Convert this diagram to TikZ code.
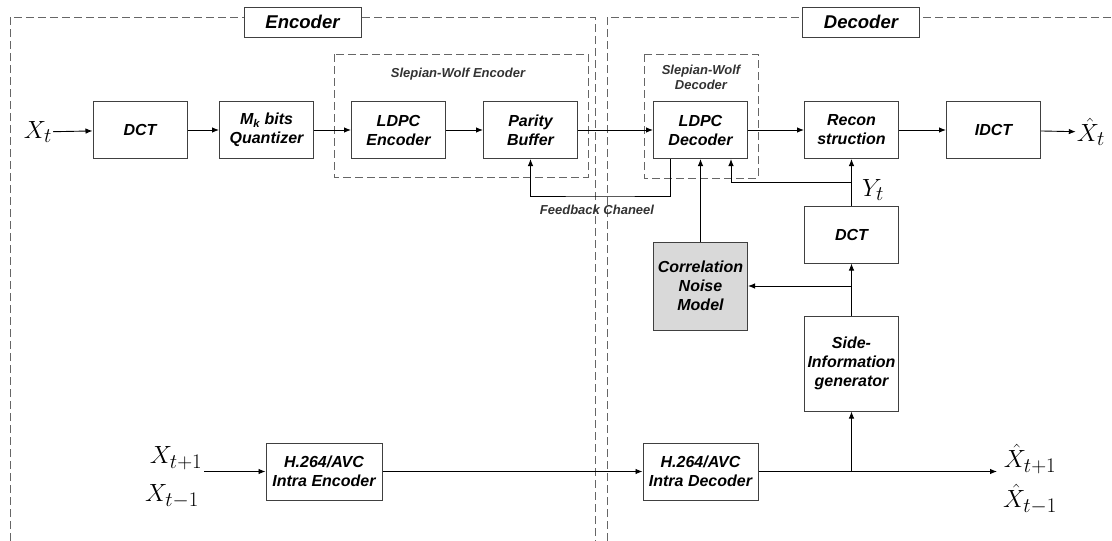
\documentclass[tikz,border=0pt]{standalone}
\usepackage{fontspec}
\newfontfamily\arialfont{Liberation Sans}
\usetikzlibrary{arrows.meta}

\begin{document}
\begin{tikzpicture}[x=1pt,y=-1pt,
    >={Latex[length=7pt,width=5.5pt]},
    blk/.style={draw=black!75,line width=1pt,minimum width=94pt,minimum height=57pt,
      inner sep=1pt,align=center,font=\arialfont\bfseries\itshape\fontsize{16}{19}\selectfont},
    lbl/.style={draw=black!75,fill=white,line width=1pt,minimum width=117pt,minimum height=30pt,
      inner sep=0pt,font=\arialfont\bfseries\itshape\fontsize{18.5}{21}\selectfont},
    note/.style={inner sep=1pt,align=center,text=black!80,
      font=\arialfont\bfseries\itshape\fontsize{13}{15}\selectfont},
    sig/.style={inner sep=1pt,font=\fontsize{24.88}{28}\selectfont},
    zone/.style={draw=black!60,line width=1pt,dash pattern=on 8pt off 4pt},
    link/.style={->,line width=0.9pt}]
  \useasboundingbox (0,0) rectangle (1112,541);

  \draw[zone] (10,541) -- (10,17) -- (595,17) -- (595,541);
  \draw[zone] (607,541) -- (607,17) -- (1112,17);
  \draw[zone] (334,54) rectangle (588,177);
  \draw[zone] (644,54) rectangle (758,178);

  \node[lbl] (enc) at (302.5,22) {Encoder};
  \node[lbl] (dec) at (861,22) {Decoder};
  \node[note] (swe) at (458,74) {Slepian-Wolf Encoder};
  \node[note] (swd) at (701,77) {Slepian-Wolf\\Decoder};

  \node[sig] (xt) at (38,132) {$X_t$};
  \node[blk] (dct) at (140,130) {DCT};
  \node[blk] (quant) at (266.5,130) {M\textsubscript{k} bits\\Quantizer};
  \node[blk] (ldpce) at (398.5,130) {LDPC\\Encoder};
  \node[blk] (parity) at (530.5,130) {Parity\\Buffer};
  \node[blk] (ldpcd) at (700.5,130) {LDPC\\Decoder};
  \node[blk] (recon) at (851.5,130) {Recon\\struction};
  \node[blk] (idct) at (993.5,130) {IDCT};
  \node[sig] (xhat) at (1091,132) {$\hat{X}_t$};

  \node[blk] (ddct) at (851.5,234.5) {DCT};
  \node[sig] (yt) at (873,190) {$Y_t$};
  \node[blk,fill=black!15,minimum height=88pt] (cnm) at (700.5,286) {Correlation\\Noise\\Model};
  \node[blk,minimum height=95pt] (side) at (851.5,363.5) {Side-\\Information\\generator};
  \node[note] (fbl) at (597,210) {Feedback Chaneel};

  \node[sig] (xp) at (176,458) {$X_{t+1}$};
  \node[sig] (xm) at (172,496) {$X_{t-1}$};
  \node[blk,minimum width=116pt] (h264e) at (324,471.5) {H.264/AVC\\Intra Encoder};
  \node[blk,minimum width=115pt] (h264d) at (700.5,471.5) {H.264/AVC\\Intra Decoder};
  \node[sig] (xhp) at (1030,459) {$\hat{X}_{t+1}$};
  \node[sig] (xhm) at (1030,499) {$\hat{X}_{t-1}$};

  \coordinate (fb) at (600,196);
  \coordinate (ybr) at (851.5,182);
  \coordinate (cbr) at (851.5,286);
  \coordinate (sbr) at (851.5,471.5);
  \coordinate (xin) at (204,471.5);
  \coordinate (xout) at (997,471.5);

  \draw[link] (xt) -- (dct);
  \draw[link] (dct) -- (quant);
  \draw[link] (quant) -- (ldpce);
  \draw[link] (ldpce) -- (parity);
  \draw[link] (parity) -- (ldpcd);
  \draw[link] (ldpcd) -- (recon);
  \draw[link] (recon) -- (idct);
  \draw[link] (idct) -- (xhat);

  \draw[link] ([xshift=-30pt]ldpcd.south) |- (fb) -| (parity.south);
  \draw[link] (cnm) -- (ldpcd);
  \draw[link] (ddct) -- (recon);
  \draw[link] (ybr) -| ([xshift=30.5pt]ldpcd.south);
  \draw[link] (side) -- (ddct);
  \draw[link] (cbr) -- (cnm.east);

  \draw[link] (xin) -- (h264e);
  \draw[link] (h264e) -- (h264d);
  \draw[link] (h264d) -- (xout);
  \draw[link] (sbr) -- (side);
\end{tikzpicture}
\end{document}
